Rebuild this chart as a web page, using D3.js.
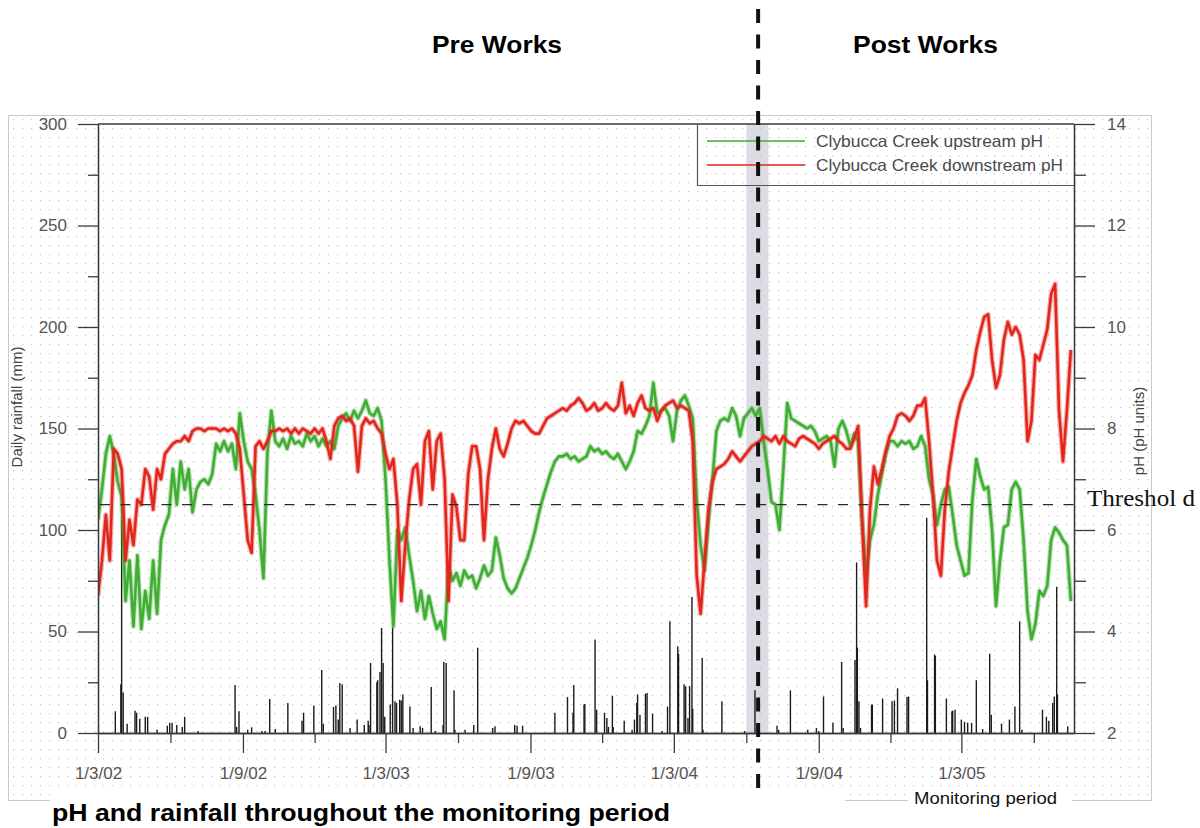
<!DOCTYPE html>
<html>
<head>
<meta charset="utf-8">
<script src="https://cdn.jsdelivr.net/npm/d3@7"></script>
<style>
  html, body { margin: 0; padding: 0; background: #fff; }
  svg { display: block; font-family: Arial, "Liberation Sans", sans-serif; }
</style>
</head>
<body>
<svg id="chart" width="1200" height="828"></svg>
<script>
// ---- data -------------------------------------------------------------
const periodStart = "2002-03-01";
const periodEnd = "2005-07-22";
const worksDate = "2004-06-16";
const worksBand = ["2004-06-01", "2004-06-29"];
const thresholdPH = 6.5;

const majorDates = ["2002-03-01", "2002-09-01", "2003-03-01", "2003-09-01", "2004-03-01", "2004-09-01", "2005-03-01"];
const majorLabels = ["1/3/02", "1/9/02", "1/3/03", "1/9/03", "1/3/04", "1/9/04", "1/3/05"];
const minorDates = ["2002-06-01", "2002-12-01", "2003-06-01", "2003-12-01", "2004-06-01", "2004-12-01", "2005-06-01"];

const rainTicks = [0, 50, 100, 150, 200, 250, 300];
const rainMinor = [25, 75, 125, 175, 225, 275];
const phTicks = [2, 4, 6, 8, 10, 12, 14];
const phMinor = [3, 5, 7, 9, 11, 13];

// pH readings, one every 5 days from the start of monitoring
const phStepDays = 5;
const upstreamPH = [
  6.2, 6.8, 7.5, 7.85, 7.5, 6.95, 6.65, 4.6, 5.4, 4.1,
  5.5, 4.05, 4.8, 4.25, 5.4, 4.35, 5.8, 6.1, 6.3, 7.2,
  6.5, 7.35, 6.8, 7.2, 6.35, 6.8, 6.95, 7.0, 6.9, 7.1,
  7.7, 7.55, 7.75, 7.55, 7.7, 7.2, 8.3, 7.75, 7.35, 7.2,
  6.7, 6.0, 5.05, 7.5, 8.35, 7.75, 7.65, 7.8, 7.6, 7.85,
  7.7, 7.75, 7.65, 7.9, 7.75, 7.85, 7.65, 7.8, 7.65, 7.75,
  7.6, 8.05, 8.2, 8.3, 8.15, 8.35, 8.2, 8.35, 8.55, 8.3,
  8.25, 8.4, 8.15, 7.0, 5.4, 4.1, 6.0, 5.8, 6.05, 5.5,
  5.0, 4.4, 4.8, 4.25, 4.7, 4.35, 4.05, 4.2, 3.85, 5.3,
  5.0, 5.15, 4.9, 5.2, 5.05, 5.1, 4.85, 5.05, 5.3, 5.1,
  5.2, 5.85, 5.5, 5.05, 4.85, 4.75, 4.85, 5.05, 5.25, 5.45,
  5.7, 6.0, 6.35, 6.65, 6.9, 7.15, 7.35, 7.45, 7.45, 7.5,
  7.4, 7.45, 7.35, 7.4, 7.45, 7.65, 7.55, 7.6, 7.5, 7.55,
  7.45, 7.4, 7.5, 7.35, 7.2, 7.35, 7.55, 7.95, 7.9, 8.05,
  8.25, 8.9, 8.3, 8.35, 8.4, 8.25, 7.75, 8.35, 8.55, 8.65,
  8.45, 8.2, 6.6, 5.7, 5.2, 6.2, 7.0, 7.95, 8.15, 8.2,
  8.15, 8.4, 8.25, 7.85, 8.2, 8.3, 8.4, 8.25, 8.4, 7.75,
  7.2, 6.55, 6.5, 6.0, 7.2, 8.5, 8.2, 8.15, 8.1, 8.05,
  8.0, 8.05, 7.95, 7.75, 7.8, 7.85, 7.75, 7.25, 8.0, 8.15,
  7.95, 7.65, 7.9, 7.75, 6.2, 5.1, 5.8, 6.1, 6.7, 7.1,
  7.5, 7.75, 7.75, 7.65, 7.75, 7.7, 7.75, 7.6, 7.65, 7.85,
  7.65, 7.0, 6.7, 6.1, 6.5, 6.8, 6.85, 6.3, 5.7, 5.4,
  5.1, 5.15, 6.6, 7.4, 7.05, 6.8, 6.85, 6.0, 4.5, 5.4,
  6.05, 6.1, 6.8, 6.95, 6.8, 5.8, 4.4, 3.85, 4.15, 4.8,
  4.7, 4.9, 5.8, 6.05, 5.95, 5.8, 5.7, 4.6
];
const downstreamPH = [
  4.7, 5.4, 6.3, 5.4, 7.6, 7.5, 7.2, 5.4, 6.2, 5.7,
  6.6, 6.5, 7.2, 7.05, 6.4, 7.2, 7.0, 7.5, 7.6, 7.7,
  7.75, 7.75, 7.85, 7.75, 7.95, 8.0, 8.0, 7.95, 8.0, 8.0,
  8.0, 7.95, 8.0, 7.95, 8.0, 7.9, 7.6, 6.7, 5.8, 5.55,
  7.65, 7.75, 7.6, 7.75, 7.95, 7.95, 8.0, 7.95, 8.0, 7.9,
  8.0, 7.9, 8.0, 7.95, 7.9, 8.0, 7.9, 8.0, 7.75, 7.4,
  8.05, 8.2, 8.25, 8.15, 8.2, 8.05, 7.15, 8.05, 8.2, 8.1,
  8.15, 8.0, 7.9, 7.5, 7.2, 7.4, 6.5, 4.6, 5.7, 6.6,
  7.2, 7.3, 6.5, 7.75, 7.95, 6.8, 7.75, 7.9, 7.0, 4.6,
  6.7, 6.45, 5.8, 5.8, 7.1, 7.65, 7.65, 7.2, 5.8, 7.0,
  7.6, 8.0, 7.6, 7.45, 7.7, 8.0, 8.15, 8.1, 8.15, 8.05,
  7.95, 7.9, 7.9, 8.05, 8.2, 8.25, 8.3, 8.35, 8.4, 8.35,
  8.45, 8.5, 8.6, 8.5, 8.35, 8.4, 8.5, 8.35, 8.4, 8.5,
  8.4, 8.35, 8.45, 8.9, 8.3, 8.45, 8.25, 8.5, 8.65, 8.4,
  8.35, 8.4, 8.15, 8.35, 8.45, 8.5, 8.55, 8.4, 8.45, 8.4,
  8.35, 7.75, 5.1, 4.35, 5.4, 6.4, 6.95, 7.2, 7.25, 7.3,
  7.4, 7.55, 7.45, 7.35, 7.45, 7.55, 7.65, 7.7, 7.75, 7.85,
  7.8, 7.75, 7.85, 7.7, 7.85, 7.75, 7.7, 7.65, 7.8, 7.85,
  7.8, 7.75, 7.7, 7.6, 7.7, 7.75, 7.8, 7.85, 7.75, 7.7,
  7.6, 7.6, 7.8, 8.05, 6.2, 4.5, 6.4, 7.25, 6.9, 7.2,
  7.55, 7.85, 8.0, 8.25, 8.3, 8.25, 8.15, 8.25, 8.45, 8.45,
  8.6, 7.75, 6.7, 5.4, 5.1, 6.4, 7.15, 7.65, 8.15, 8.5,
  8.7, 8.85, 9.05, 9.55, 9.9, 10.2, 10.25, 9.35, 8.8, 9.05,
  9.75, 10.1, 9.85, 10.0, 9.85, 9.35, 7.75, 8.15, 9.45, 9.35,
  9.65, 9.95, 10.65, 10.85, 8.35, 7.35, 8.35, 9.55
];

// daily rainfall events: day of monitoring and rainfall (mm)
const rainDay = [
  0, 22, 29, 30, 32, 37, 47, 49, 53, 60, 63, 75, 88, 91, 94, 100, 107, 110, 127,
  174, 176, 179, 190, 195, 208, 212, 218, 225, 241, 259, 261, 274, 284, 286,
  299, 302, 305, 307, 310, 320, 329, 338, 343, 344, 346, 354, 355, 358, 360,
  362, 364, 371, 374, 377, 379, 383, 385, 387, 396, 400, 409, 412, 423, 428,
  438, 439, 442, 452, 453, 466, 477, 482, 501, 504, 529, 532, 539, 580, 596,
  603, 604, 617, 618, 631, 633, 643, 646, 648, 653, 654, 668, 678, 681, 684,
  685, 688, 695, 697, 704, 716, 723, 726, 736, 737, 744, 746, 749, 751, 754,
  755, 767, 768, 792, 821, 834, 862, 864, 879, 901, 912, 915, 921, 933, 944,
  946, 961, 963, 964, 966, 968, 982, 983, 996, 1008, 1011, 1015, 1027, 1029,
  1052, 1053, 1062, 1063, 1077, 1084, 1085, 1088, 1096, 1100, 1104, 1109,
  1115, 1123, 1132, 1134, 1147, 1157, 1164, 1170, 1173, 1199, 1204, 1207,
  1212, 1214, 1217, 1218, 1231
];
const rainMm = [
  10, 10.7, 24, 105, 20, 4.6, 11, 10, 7, 8, 8, 1.6, 3.6, 5, 5, 4, 3, 8, 1,
  23.6, 3, 10.7, 1.6, 2.8, 1, 1, 16.7, 2, 14.8, 6, 10, 13.5, 31, 4.6,
  12.8, 13.5, 6.6, 24.6, 24, 2.5, 6.6, 4, 6, 4, 34.5, 25, 26, 30, 51.7,
  34.5, 8, 14, 52, 15.6, 14.8, 16.4, 16, 19, 13, 2.5, 3.3, 2.5, 22.6, 1,
  4, 35, 34.5, 21, 1.6, 1.6, 4, 42, 2.5, 3.3, 4, 3.6, 3.6, 10, 17.7,
  10, 23.6, 14, 14.3, 46, 11.5, 10, 7.4, 3, 18.4, 3, 6, 1.6, 6.6, 14.8,
  19, 9, 19.4, 19.7, 9.5, 1, 13, 55, 42.7, 39, 24, 23, 7.4, 23, 67,
  12, 37, 1.6, 15.6, 1, 21, 3.6, 1.6, 21, 1.6, 2.5, 1, 18, 5, 35,
  2.5, 36, 84, 42, 15.6, 2.5, 14, 14, 17, 15.6, 16, 22, 17.7, 18,
  106, 26, 38.6, 38, 17, 10.7, 11, 11.5, 6.6, 5.5, 5, 5,
  26, 2, 39, 9, 4.6, 6.6, 13, 55, 1.6, 11.5, 8, 6,
  14.8, 18, 72, 19, 3.3
];

const seriesNames = ["Clybucca Creek upstream pH", "Clybucca Creek downstream pH"];
const seriesColors = ["#3fae33", "#e2261c"];

// ---- layout -----------------------------------------------------------
const plot = { left: 98, right: 1074, top: 124, bottom: 733 };
const frame = { x: 8, y: 115, w: 1143, h: 685 };

const parse = d3.timeParse("%Y-%m-%d");
const t0 = parse(periodStart);
const dayToDate = d => d3.timeDay.offset(t0, d);

const x = d3.scaleTime().domain([t0, parse(periodEnd)]).range([plot.left, plot.right]);
const yRain = d3.scaleLinear().domain([0, 300]).range([plot.bottom, plot.top]);
const yPH = d3.scaleLinear().domain([2, 14]).range([plot.bottom, plot.top]);

const svg = d3.select("#chart");
const defs = svg.append("defs");

const dots = defs.append("pattern")
  .attr("id", "dots").attr("patternUnits", "userSpaceOnUse")
  .attr("width", 9).attr("height", 9).attr("x", 4).attr("y", 2);
dots.append("rect").attr("x", 0).attr("y", 0).attr("width", 1.2).attr("height", 1.2).attr("fill", "#c3c3c3");

defs.append("clipPath").attr("id", "plotClip")
  .append("rect").attr("x", plot.left).attr("y", plot.top)
  .attr("width", plot.right - plot.left).attr("height", plot.bottom - plot.top);

// panel with dotted background
svg.append("rect")
  .attr("x", frame.x + 0.5).attr("y", frame.y + 0.5)
  .attr("width", frame.w).attr("height", frame.h)
  .attr("fill", "url(#dots)").attr("stroke", "#c9c9c9");

// white caption strip along the lower edge
svg.append("rect").attr("x", 50).attr("y", 786).attr("width", 795).attr("height", 42).attr("fill", "#fff");

// construction period band
const bandX0 = x(parse(worksBand[0])), bandX1 = x(parse(worksBand[1]));
svg.append("rect")
  .attr("x", bandX0).attr("y", plot.top)
  .attr("width", bandX1 - bandX0).attr("height", plot.bottom - plot.top)
  .attr("fill", "#dcdce5");
svg.append("rect")
  .attr("x", bandX0).attr("y", plot.top)
  .attr("width", bandX1 - bandX0).attr("height", plot.bottom - plot.top)
  .attr("fill", "url(#dots)");

const g = svg.append("g").attr("clip-path", "url(#plotClip)");

// rainfall bars
g.append("g").selectAll("line")
  .data(rainDay.map((d, i) => ({ date: dayToDate(d), mm: rainMm[i] })))
  .join("line")
  .attr("x1", d => x(d.date)).attr("x2", d => x(d.date))
  .attr("y1", yRain(0)).attr("y2", d => yRain(d.mm))
  .attr("stroke", "#1b1b1b").attr("stroke-width", 1.4);

// pH series: soft halo under a solid core stroke
const phLine = d3.line()
  .x((v, i) => x(dayToDate(i * phStepDays)))
  .y(v => yPH(v));

[upstreamPH, downstreamPH].forEach((arr, k) => {
  g.append("path")
    .attr("d", phLine(arr))
    .attr("fill", "none")
    .attr("stroke", seriesColors[k])
    .attr("stroke-opacity", 0.35)
    .attr("stroke-width", 5)
    .attr("stroke-linejoin", "round");
  g.append("path")
    .attr("d", phLine(arr))
    .attr("fill", "none")
    .attr("stroke", seriesColors[k])
    .attr("stroke-width", 2.6)
    .attr("stroke-linejoin", "round");
});

// pH threshold
svg.append("line")
  .attr("x1", plot.left + 2).attr("x2", plot.right)
  .attr("y1", yPH(thresholdPH)).attr("y2", yPH(thresholdPH))
  .attr("stroke", "#2a2a2a").attr("stroke-width", 1.4)
  .attr("stroke-dasharray", "10,10.5");

// ---- axes ---------------------------------------------------------------
const axisColor = "#3a3a3a";
const labelColor = "#555";

function styleAxis(sel) {
  sel.select(".domain").attr("stroke", axisColor).attr("stroke-width", 1.3);
  sel.selectAll(".tick line").attr("stroke", axisColor).attr("stroke-width", 1.3);
  sel.selectAll(".tick text").attr("fill", labelColor).attr("font-size", 17)
    .attr("font-family", "Arial, 'Liberation Sans', sans-serif");
}

svg.append("g").attr("transform", `translate(${plot.left},0)`)
  .call(d3.axisLeft(yRain).tickValues(rainTicks).tickSize(20).tickPadding(11).tickSizeOuter(0))
  .call(styleAxis);
svg.append("g").attr("transform", `translate(${plot.left},0)`)
  .call(d3.axisLeft(yRain).tickValues(rainMinor).tickSize(10).tickFormat("").tickSizeOuter(0))
  .call(styleAxis);

svg.append("g").attr("transform", `translate(${plot.right},0)`)
  .call(d3.axisRight(yPH).tickValues(phTicks).tickSize(21).tickPadding(12).tickSizeOuter(0))
  .call(styleAxis);
svg.append("g").attr("transform", `translate(${plot.right},0)`)
  .call(d3.axisRight(yPH).tickValues(phMinor).tickSize(12).tickFormat("").tickSizeOuter(0))
  .call(styleAxis);

svg.append("g").attr("transform", `translate(0,${plot.bottom})`)
  .call(d3.axisBottom(x).tickValues(majorDates.map(parse)).tickSize(20).tickPadding(14).tickSizeOuter(0)
    .tickFormat((d, i) => majorLabels[i]))
  .call(styleAxis);
svg.append("g").attr("transform", `translate(0,${plot.bottom})`)
  .call(d3.axisBottom(x).tickValues(minorDates.map(parse)).tickSize(10).tickFormat("").tickSizeOuter(0))
  .call(styleAxis);

// top border of the plot
svg.append("line")
  .attr("x1", plot.left).attr("x2", plot.right)
  .attr("y1", plot.top).attr("y2", plot.top)
  .attr("stroke", axisColor).attr("stroke-width", 1.3);

// axis titles
svg.append("text")
  .attr("transform", `translate(22,407) rotate(-90)`)
  .attr("text-anchor", "middle")
  .attr("font-size", 15).attr("fill", "#444")
  .text("Daily rainfall (mm)");
svg.append("text")
  .attr("transform", `translate(1144,431) rotate(-90)`)
  .attr("text-anchor", "middle")
  .attr("font-size", 15).attr("fill", "#444")
  .text("pH (pH units)");

// ---- legend ---------------------------------------------------------------
svg.append("path")
  .attr("d", `M697.5,${plot.top}V185.5H${plot.right}`)
  .attr("fill", "none").attr("stroke", "#555").attr("stroke-width", 1.2);
const legendRows = [141, 165];
const legendText = [227, 247];
seriesNames.forEach((name, k) => {
  svg.append("line")
    .attr("x1", 707).attr("x2", 805)
    .attr("y1", legendRows[k]).attr("y2", legendRows[k])
    .attr("stroke", seriesColors[k]).attr("stroke-width", 1.3);
  svg.append("text")
    .attr("x", 816).attr("y", legendRows[k] + 6)
    .attr("font-size", 16.5).attr("fill", "#4a4a4a")
    .attr("textLength", legendText[k]).attr("lengthAdjust", "spacingAndGlyphs")
    .text(name);
});

// ---- annotations -------------------------------------------------------------
svg.append("text")
  .attr("x", 1087).attr("y", 506)
  .attr("font-family", "'Liberation Serif', 'Times New Roman', serif")
  .attr("font-size", 23).attr("fill", "#111")
  .attr("textLength", 108).attr("lengthAdjust", "spacingAndGlyphs")
  .text("Threshol d");

// works (before / after) divider
svg.append("line")
  .attr("x1", x(parse(worksDate))).attr("x2", x(parse(worksDate)))
  .attr("y1", 9).attr("y2", 790)
  .attr("stroke", "#111").attr("stroke-width", 4)
  .attr("stroke-dasharray", "14,11.5");

svg.append("text")
  .attr("x", 432).attr("y", 52.5)
  .attr("font-size", 23).attr("font-weight", "bold").attr("fill", "#000")
  .attr("textLength", 130).attr("lengthAdjust", "spacingAndGlyphs")
  .text("Pre Works");
svg.append("text")
  .attr("x", 853).attr("y", 52.5)
  .attr("font-size", 23).attr("font-weight", "bold").attr("fill", "#000")
  .attr("textLength", 145).attr("lengthAdjust", "spacingAndGlyphs")
  .text("Post Works");

// x axis caption
svg.append("rect").attr("x", 908).attr("y", 788).attr("width", 164).attr("height", 20).attr("fill", "#fff");
svg.append("text")
  .attr("x", 914).attr("y", 804)
  .attr("font-size", 16.5).attr("fill", "#111")
  .attr("textLength", 143).attr("lengthAdjust", "spacingAndGlyphs")
  .text("Monitoring period");

// figure caption
svg.append("text")
  .attr("x", 52).attr("y", 821)
  .attr("font-size", 23).attr("font-weight", "bold").attr("fill", "#000")
  .attr("textLength", 618).attr("lengthAdjust", "spacingAndGlyphs")
  .text("pH and rainfall throughout the monitoring period");
</script>
</body>
</html>
